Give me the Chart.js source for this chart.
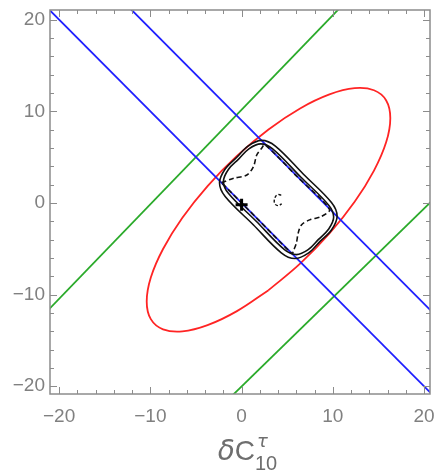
<!DOCTYPE html>
<html>
<head>
<meta charset="utf-8">
<script src="https://cdn.jsdelivr.net/npm/chart.js@4.4.1/dist/chart.umd.min.js"></script>
<style>
  html, body { margin: 0; padding: 0; background: #fff; }
</style>
</head>
<body>
<canvas id="plot" width="439" height="472"></canvas>
<script>
// axis ranges and tick labels
const xRange = [-21, 20.65];
const yRange = [-20.85, 21.05];
const xTicks = [-20, -10, 0, 10, 20];
const yTicks = [-20, -10, 0, 10, 20];
const minorStep = 2;

// straight bands
const blueA = [[-25, 25], [25, -25]];
const blueB = [[-25, 34], [25, -16]];
const greenA = [[-23, -13.56], [12.5, 23.06]];
const greenB = [[-3, -22.94], [23, 2.31]];

// red ellipse, read round the curve (starts on a flat stretch)
const redEllipse = [
  [2.95, -9.52], [-0.51, -11.81], [-3.73, -13.34], [-6.49, -14.02], [-8.61, -13.79], [-9.95, -12.68],
  [-10.4, -10.75], [-9.95, -8.14], [-8.61, -5.03], [-6.49, -1.62], [-3.73, 1.84], [-0.51, 5.13],
  [2.95, 8.02], [6.41, 10.31], [9.63, 11.84], [12.39, 12.52], [14.51, 12.29], [15.85, 11.18],
  [16.3, 9.25], [15.85, 6.64], [14.51, 3.53], [12.39, 0.12], [9.63, -3.34], [6.41, -6.63], [2.95, -9.52]
];

// black contours
const outerSolid = [
  [6.78, 3.13], [9.85, 0.05], [10.47, -1.45], [9.85, -2.95], [8.6, -4.2], [7.35, -5.45],
  [5.85, -6.07], [4.35, -5.45], [1.28, -2.38], [-1.8, 0.7], [-2.42, 2.2], [-1.8, 3.7],
  [-0.55, 4.95], [0.7, 6.2], [2.2, 6.82], [3.7, 6.2], [6.78, 3.13]
];
const innerSolid = [
  [6.48, 2.83], [9.55, -0.25], [10.09, -1.55], [9.55, -2.85], [8.43, -3.98], [7.3, -5.1],
  [6.0, -5.64], [4.7, -5.1], [1.63, -2.03], [-1.45, 1.05], [-1.99, 2.35], [-1.45, 3.65],
  [-0.33, 4.78], [0.8, 5.9], [2.1, 6.44], [3.4, 5.9], [6.48, 2.83]
];
const dashedContour = [
  [-2.2, 2.2], [-0.87, 2.69], [0.58, 3.05], [1.3, 3.96], [1.66, 5.23], [2.2, 5.96], [2.55, 6.35],
  [6.1, 2.85], [9.64, -0.7], [8.73, -1.49], [7.46, -1.85], [6.56, -2.4], [6.2, -3.3], [6.0, -4.4],
  [5.65, -5.3], [5.55, -5.55], [1.7, -1.7], [-2.2, 2.2]
];
const smallLoop = [[4.35, 0.85], [3.9, 0.9], [3.6, 0.4], [3.65, -0.1], [4.0, -0.3], [4.4, -0.1]];
const bestFit = [[0, -0.2]];

const pts = arr => arr.map(p => ({ x: p[0], y: p[1] }));

function curve(arr, color, width, tension, dash) {
  return {
    data: pts(arr),
    showLine: true,
    borderColor: color,
    borderWidth: width,
    borderDash: dash || [],
    tension: tension,
    pointRadius: 0,
    fill: false
  };
}

const frameColor = '#8c8c8c';
const labelColor = '#808080';

// frame with inward ticks on all four sides
const framePlugin = {
  id: 'frame',
  afterDatasetsDraw(chart) {
    const { ctx, chartArea: a, scales } = chart;
    ctx.save();
    ctx.strokeStyle = frameColor;
    ctx.lineWidth = 1.5;
    ctx.strokeRect(a.left, a.top, a.right - a.left, a.bottom - a.top);
    ctx.lineWidth = 1;
    for (let v = -20; v <= 20; v += minorStep) {
      const len = v % 10 === 0 ? 7 : 4;
      const px = Math.round(scales.x.getPixelForValue(v)) + 0.5;
      const py = Math.round(scales.y.getPixelForValue(v)) + 0.5;
      ctx.beginPath();
      ctx.moveTo(px, a.bottom); ctx.lineTo(px, a.bottom - len);
      ctx.moveTo(px, a.top); ctx.lineTo(px, a.top + len);
      ctx.moveTo(a.left, py); ctx.lineTo(a.left + len, py);
      ctx.moveTo(a.right, py); ctx.lineTo(a.right - len, py);
      ctx.stroke();
    }
    ctx.restore();
  }
};

// x axis title: δC with subscript 10 and superscript τ
const titlePlugin = {
  id: 'xtitle',
  afterDraw(chart) {
    const ctx = chart.ctx;
    ctx.save();
    ctx.fillStyle = '#6e6e6e';
    ctx.textBaseline = 'alphabetic';
    ctx.textAlign = 'left';
    ctx.font = '28px "Liberation Sans"';
    const wC = ctx.measureText('C').width;
    const cx = 255 - wC;
    ctx.fillText('C', cx, 460);
    ctx.font = 'italic 28px "DejaVu Sans"';
    const wd = ctx.measureText('δ').width;
    ctx.fillText('δ', cx - wd, 460);
    ctx.font = 'italic 18px "DejaVu Sans"';
    ctx.fillText('τ', 257, 447);
    ctx.font = '20px "Liberation Sans"';
    ctx.fillText('10', 255, 470);
    ctx.restore();
  }
};

const fmt = v => (v < 0 ? '\u2212' + Math.abs(v) : String(v));

new Chart(document.getElementById('plot'), {
  type: 'scatter',
  data: {
    datasets: [
      { data: pts(bestFit), pointStyle: 'cross', pointRadius: 6, borderColor: '#000', borderWidth: 3, showLine: false },
      curve(dashedContour, '#111', 1.6, 0.3, [5, 3]),
      curve(smallLoop, '#111', 1.4, 0.4, [3, 2]),
      curve(innerSolid, '#111', 1.6, 0.35),
      curve(outerSolid, '#111', 1.6, 0.35),
      curve(blueA, '#1f1fff', 1.8, 0),
      curve(blueB, '#1f1fff', 1.8, 0),
      curve(redEllipse, '#ff2424', 1.8, 0.4),
      curve(greenA, '#2aaa2a', 1.8, 0),
      curve(greenB, '#2aaa2a', 1.8, 0)
    ]
  },
  options: {
    responsive: false,
    animation: false,
    events: [],
    layout: { padding: { left: 0, right: 6, top: 10, bottom: 0 } },
    plugins: { legend: { display: false }, tooltip: { enabled: false } },
    scales: {
      x: {
        type: 'linear',
        min: xRange[0],
        max: xRange[1],
        afterBuildTicks: s => { s.ticks = xTicks.map(v => ({ value: v })); },
        afterFit: s => { s.height = 78; s.paddingLeft = 0; s.paddingRight = 0; },
        grid: { display: false, drawTicks: false },
        border: { display: false },
        ticks: {
          padding: 11,
          color: labelColor,
          font: { family: 'Liberation Sans', size: 19 },
          maxRotation: 0,
          callback: fmt
        }
      },
      y: {
        type: 'linear',
        min: yRange[0],
        max: yRange[1],
        afterBuildTicks: s => { s.ticks = yTicks.map(v => ({ value: v })); },
        afterFit: s => { s.width = 50; s.paddingTop = 0; s.paddingBottom = 0; },
        grid: { display: false, drawTicks: false },
        border: { display: false },
        ticks: {
          padding: 5,
          color: labelColor,
          font: { family: 'Liberation Sans', size: 19 },
          callback: fmt
        }
      }
    }
  },
  plugins: [framePlugin, titlePlugin]
});
</script>
</body>
</html>
